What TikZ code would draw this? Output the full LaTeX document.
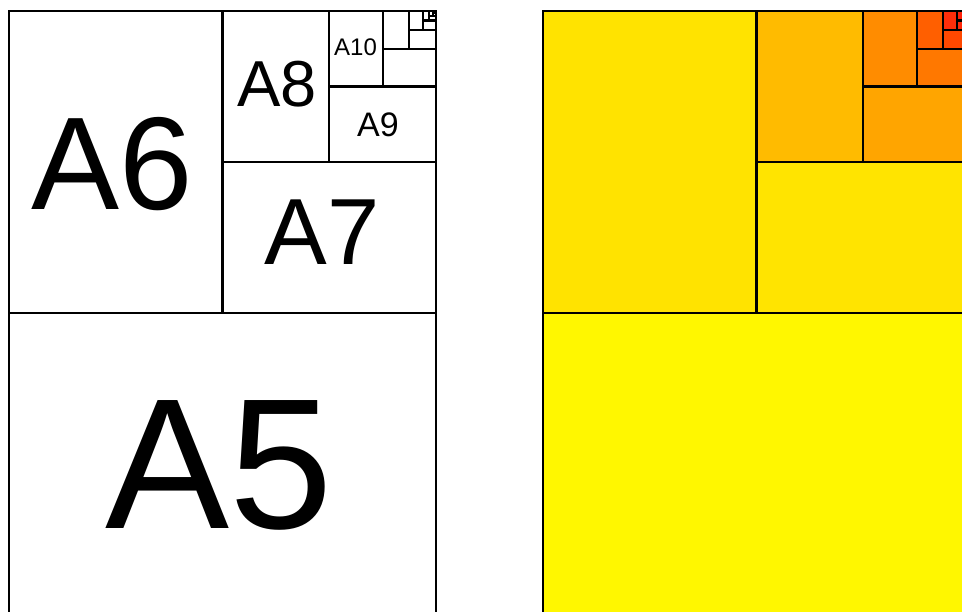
\documentclass[tikz,border=0pt]{standalone}
\usepackage{fontspec}
\setmainfont{Liberation Sans}
\definecolor{c5}{HTML}{FFF700}
\definecolor{c6}{HTML}{FFE300}
\definecolor{c7}{HTML}{FFE400}
\definecolor{c8}{HTML}{FFBB00}
\definecolor{c9}{HTML}{FFA500}
\definecolor{c10}{HTML}{FF8C00}
\definecolor{c11}{HTML}{FF7800}
\definecolor{c12}{HTML}{FF5F00}
\definecolor{c13}{HTML}{FF4800}
\definecolor{c14}{HTML}{FF2E0A}
\definecolor{c15}{HTML}{FF280A}
\definecolor{c16}{HTML}{FF220A}
\definecolor{c17}{HTML}{FF1C0A}
\definecolor{c18}{HTML}{FF160A}
\definecolor{c19}{HTML}{FF100A}
\definecolor{c20}{HTML}{FF0A0A}
\definecolor{c21}{HTML}{FF0A0A}
\definecolor{c22}{HTML}{FF0A0A}
\definecolor{c23}{HTML}{FF0A0A}
\definecolor{c24}{HTML}{FF0A0A}
\tikzset{
  edge/.style={draw=black, line width=2.2pt},
  lbl/.style={inner sep=0pt, text=black}
}
\begin{document}
\begin{tikzpicture}[x=1pt,y=-1pt]
\useasboundingbox (0,0) rectangle (962,612);
\clip (0,0) rectangle (962,612);
\pgfmathsetmacro\W{427}
\pgfmathsetmacro\H{603.87}
% right panel fills
\foreach \m in {1,...,10} {
  \pgfmathsetmacro\xa{543+\W*(1-2^(-(\m-1)))}
  \pgfmathsetmacro\xb{543+\W*(1-2^(-\m))}
  \pgfmathsetmacro\yb{11+\H/2^\m}
  \pgfmathsetmacro\ya{11+\H/2^(\m-1)}
  \pgfmathtruncatemacro\kb{2*\m+3}
  \pgfmathtruncatemacro\kl{2*\m+4}
  \fill[c\kb] (\xa,\yb) rectangle (543+\W,\ya);
  \fill[c\kl] (\xa,11) rectangle (\xb,\yb);
}
% lines for both panels
\foreach \x in {9,543} {
  \draw[edge] (\x,11) rectangle ++(\W,\H);
  \foreach \m in {1,...,10} {
    \pgfmathsetmacro\xa{\x+\W*(1-2^(-(\m-1)))}
    \pgfmathsetmacro\xb{\x+\W*(1-2^(-\m))}
    \pgfmathsetmacro\yb{11+\H/2^\m}
    \draw[edge] (\xa,\yb) -- (\x+\W,\yb);
    \draw[edge] (\xb,11) -- (\xb,\yb);
  }
}
% labels
\node[lbl, font=\fontsize{186pt}{186pt}\selectfont] (a5) at (219.5,465) {A5};
\node[lbl, font=\fontsize{132pt}{132pt}\selectfont] (a6) at (112,164.5) {A6};
\node[lbl, font=\fontsize{94pt}{94pt}\selectfont] (a7) at (322,232.5) {A7};
\node[lbl, font=\fontsize{65pt}{65pt}\selectfont] (a8) at (277,84.5) {A8};
\node[lbl, font=\fontsize{34pt}{34pt}\selectfont] (a9) at (378,125) {A9};
\node[lbl, font=\fontsize{24pt}{24pt}\selectfont] (a10) at (355.5,47) {A10};
\end{tikzpicture}
\end{document}
